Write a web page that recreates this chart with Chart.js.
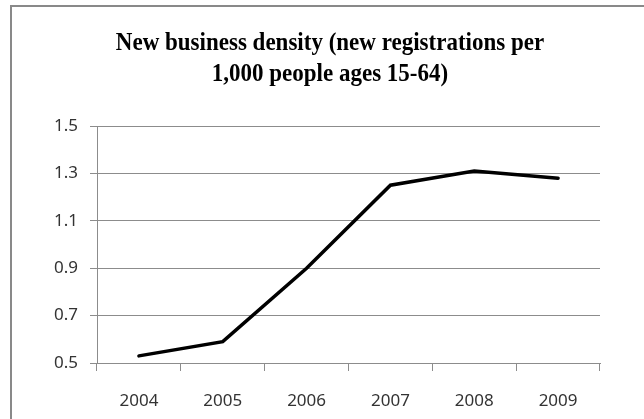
<!DOCTYPE html>
<html>
<head>
<meta charset="utf-8">
<script src="https://cdn.jsdelivr.net/npm/chart.js@4/dist/chart.umd.min.js"></script>
<style>
  html, body { margin: 0; padding: 0; background: #fff; }
  #wrap { position: relative; width: 644px; height: 419px; }
</style>
</head>
<body>
<div id="wrap"><canvas id="c" width="644" height="419"></canvas></div>
<script>
const categories = ["2004", "2005", "2006", "2007", "2008", "2009"];
const densityValues = [0.53, 0.59, 0.90, 1.25, 1.31, 1.28];
const yTickValues = [0.5, 0.7, 0.9, 1.1, 1.3, 1.5];
const titleLines = ["New business density (new registrations per", "1,000 people ages 15-64)"];

const frameAndTitle = {
  id: 'frameAndTitle',
  beforeDraw(chart) {
    const ctx = chart.ctx;
    ctx.save();
    ctx.fillStyle = '#ffffff';
    ctx.fillRect(0, 0, chart.width, chart.height);
    ctx.strokeStyle = '#898989';
    ctx.lineWidth = 2;
    ctx.strokeRect(11, 6, 1000, 1000);
    ctx.restore();
  },
  afterDraw(chart) {
    const ctx = chart.ctx;
    ctx.save();
    ctx.fillStyle = '#000000';
    ctx.font = 'bold 25px "Liberation Serif", "Times New Roman", serif';
    ctx.textAlign = 'center';
    ctx.textBaseline = 'middle';
    ctx.translate(330, 0);
    ctx.scale(0.92, 1);
    ctx.fillText(titleLines[0], 0, 44);
    ctx.fillText(titleLines[1], 0, 75);
    ctx.restore();
  }
};

new Chart(document.getElementById('c'), {
  type: 'line',
  data: {
    labels: categories,
    datasets: [{
      data: densityValues,
      borderColor: '#000000',
      borderWidth: 3.5,
      borderCapStyle: 'round',
      borderJoinStyle: 'miter',
      pointRadius: 0,
      tension: 0,
      fill: false
    }]
  },
  options: {
    responsive: false,
    animation: false,
    devicePixelRatio: 1,
    layout: { padding: { left: 0, right: 44, top: 126, bottom: 0 } },
    plugins: { legend: { display: false }, tooltip: { enabled: false }, title: { display: false } },
    scales: {
      x: {
        type: 'category',
        offset: true,
        grid: { display: true, offset: true, drawOnChartArea: false, drawTicks: true, tickLength: 8, color: '#8c8c8c', lineWidth: 1 },
        border: { display: true, color: '#8c8c8c', width: 1 },
        ticks: { color: '#333333', font: { family: '"Noto Sans", "Open Sans", sans-serif', size: 17 }, padding: 20, maxRotation: 0, autoSkip: false },
        afterFit(scale) { scale.height = 56; }
      },
      y: {
        min: 0.5,
        max: 1.5,
        afterBuildTicks(scale) { scale.ticks = yTickValues.map(v => ({ value: v })); },
        grid: { display: true, drawOnChartArea: true, drawTicks: true, tickLength: 7, color: '#8c8c8c', lineWidth: 1 },
        border: { display: true, color: '#8c8c8c', width: 1 },
        ticks: { color: '#333333', font: { family: '"Noto Sans", "Open Sans", sans-serif', size: 17 }, padding: 12, callback: (v) => Number(v).toFixed(1) },
        afterFit(scale) { scale.width = 97; }
      }
    }
  },
  plugins: [frameAndTitle]
});
</script>
</body>
</html>
